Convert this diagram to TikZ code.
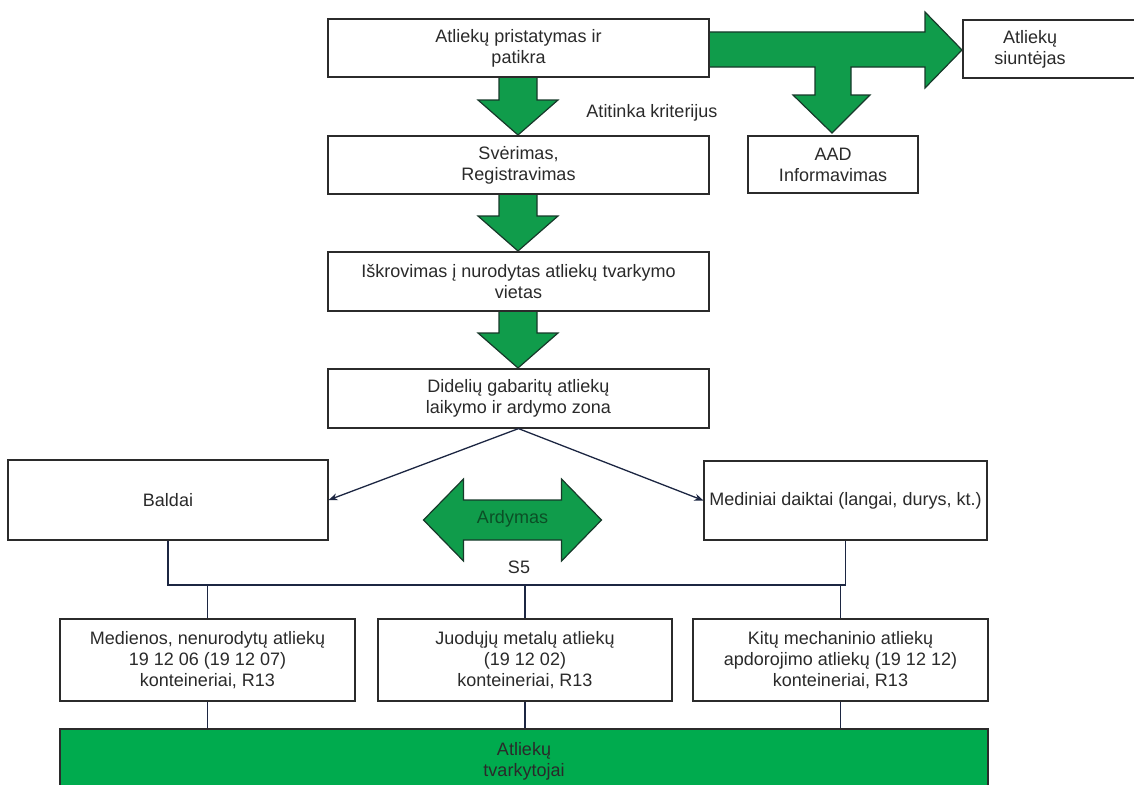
\documentclass[tikz,border=0pt]{standalone}
\usepackage{fontspec}
\setmainfont{Liberation Sans}
\usetikzlibrary{positioning,arrows.meta}
\definecolor{arrowgreen}{HTML}{109C4B}
\definecolor{bargreen}{HTML}{00AB4E}
\definecolor{arrowline}{HTML}{17392A}
\definecolor{boxline}{HTML}{2B2B2B}
\definecolor{navy}{HTML}{1C2642}
\definecolor{txt}{HTML}{2A2A2A}
\definecolor{ardtext}{HTML}{0B4F26}

\def\downblock{%
    \filldraw [fill=arrowgreen,draw=arrowline,line width=1.2pt] (-19,-62) -- (19,-62) -- (19,-35) -- (40,-35) -- (0,0) -- (-40,-35) -- (-19,-35) -- cycle;
}
\def\twinblock{%
    \filldraw [fill=arrowgreen,draw=arrowline,line width=1.2pt] (-89,0) -- (-49,-41) -- (-49,-20) -- (49,-20) -- (49,-41) -- (89,0) -- (49,41) -- (49,20) -- (-49,20) -- (-49,41) -- cycle;
}

\begin{document}
\begin{tikzpicture}[x=1pt,y=-1pt,
  font=\fontsize{18}{21}\selectfont,
  stepbox/.style={draw=boxline,line width=1.2pt,fill=white,align=center,inner sep=0pt,text=txt},
  link/.style={draw=navy,line width=1.3pt},
  tip/.style={-{Stealth[length=9pt,width=7pt]}}]
\useasboundingbox (0,0) rectangle (1134,784);
%green arrows
\filldraw [fill=arrowgreen,draw=arrowline,line width=1.2pt] (700,32) -- (925,32) -- (925,12) -- (962,50) -- (925,88) -- (925,67) -- (851,67) -- (851,95) -- (870,95) -- (832,133) -- (793,95) -- (815,95) -- (815,67) -- (700,67) -- cycle;
\foreach \y in {135,251,368}
{
\begin{scope}[shift={(518,\y)}]
\downblock
\end{scope}
}
\begin{scope}[shift={(512.5,520)}]
\twinblock
\end{scope}
%steps
\node[stepbox,minimum width=381pt,minimum height=58pt] (pristat) at (518.5,48) {Atliekų pristatymas ir\\patikra};
\node[stepbox,minimum width=200pt,minimum height=58pt] (siunt) at (1063,49) {};
\node[text=txt,align=center] (siunttxt) at (1030,49) {Atliekų\\siuntėjas};
\node[text=txt] (kriter) at (652,113) {Atitinka kriterijus};
\node[stepbox,minimum width=381pt,minimum height=58pt] (sver) at (518.5,165) {Svėrimas,\\Registravimas};
\node[stepbox,minimum width=170pt,minimum height=57pt] (aad) at (833,164.5) {AAD\\Informavimas};
\node[stepbox,minimum width=381pt,minimum height=59pt] (iskr) at (518.5,281.5) {Iškrovimas į nurodytas atliekų tvarkymo\\vietas};
\node[stepbox,minimum width=381pt,minimum height=59pt] (didel) at (518.5,398.5) {Didelių gabaritų atliekų\\laikymo ir ardymo zona};
%zone
\node[stepbox,minimum width=320pt,minimum height=80pt] (baldai) at (168,500) {Baldai};
\node[stepbox,minimum width=283pt,minimum height=79pt] (medin) at (845.5,500.5) {Mediniai daiktai (langai, durys, kt.)};
\node[text=ardtext] (ardym) at (512.5,519) {Ardymas};
\node[text=txt] (sfive) at (519,567) {S5};
%containers
\node[stepbox,minimum width=295pt,minimum height=82pt] (kont1) at (207.5,660) {Medienos, nenurodytų atliekų\\19 12 06 (19 12 07)\\konteineriai, R13};
\node[stepbox,minimum width=294pt,minimum height=82pt] (kont2) at (525,660) {Juodųjų metalų atliekų\\(19 12 02)\\konteineriai, R13};
\node[stepbox,minimum width=295pt,minimum height=82pt] (kont3) at (840.5,660) {Kitų mechaninio atliekų\\apdorojimo atliekų (19 12 12)\\konteineriai, R13};
\node[draw=boxline,line width=1.2pt,fill=bargreen,text=txt,align=center,minimum width=928pt,minimum height=64pt,inner sep=0pt] (tvark) at (524,761) {Atliekų\\tvarkytojai};
%links
\draw[link,tip] (didel.south) -- (baldai.east);
\draw[link,tip] (didel.south) -- (medin.west);
\coordinate (bus) at (0,585);
\draw[link] (baldai.south) -- (baldai.south |- bus) -- (medin.south |- bus) -- (medin.south);
\foreach \k in {kont1,kont2,kont3}
{
\draw[link] (\k.north |- bus) -- (\k.north);
\draw[link] (\k.south) -- (\k.south |- tvark.north);
}
\end{tikzpicture}
\end{document}
